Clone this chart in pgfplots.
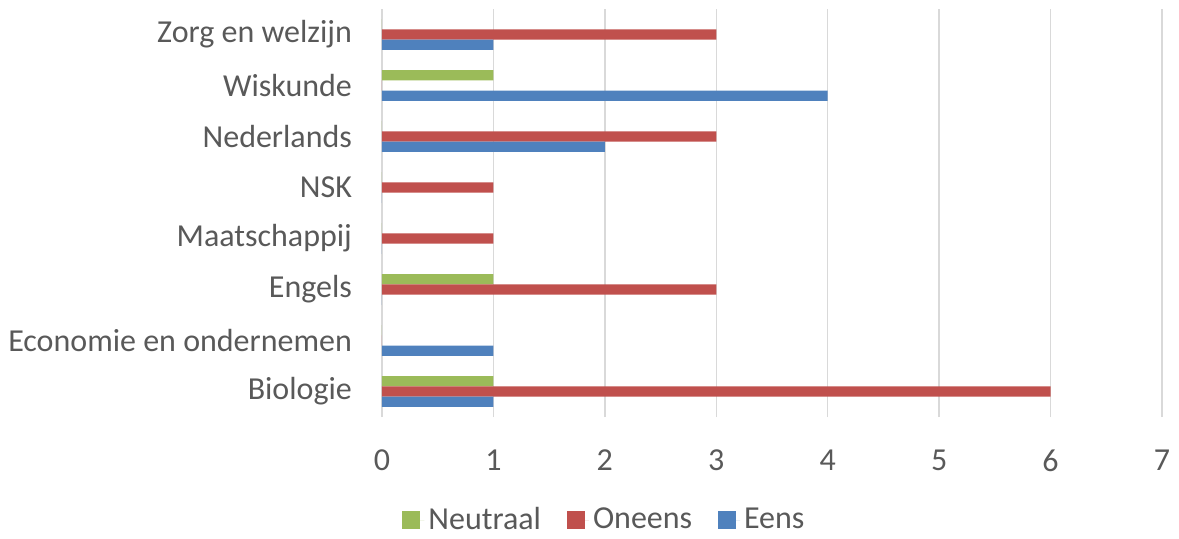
\documentclass[border=0pt]{standalone}
\usepackage{pgfplots}
\pgfplotsset{compat=1.18}
\usepackage{fontspec}
\setmainfont{Carlito}
\definecolor{eens}{HTML}{4F81BD}
\definecolor{oneens}{HTML}{C0504D}
\definecolor{neutraal}{HTML}{9BBB59}
\definecolor{txt}{HTML}{595959}
\definecolor{grid}{HTML}{D9D9D9}
\begin{document}
\begin{tikzpicture}[font=\fontsize{16pt}{19pt}\selectfont]
\useasboundingbox (-191pt,-60.5pt) rectangle (398.5pt,208.5pt);
\begin{axis}[
  at={(0,0)}, anchor=south west,
  xbar, scale only axis, width=390pt, height=204pt,
  xmin=0, xmax=7, ymin=-0.5, ymax=7.5,
  ytick={0,...,7},
  yticklabels={Biologie, Economie en ondernemen, Engels, Maatschappij, NSK, Nederlands, Wiskunde, Zorg en welzijn},
  xtick={0,...,7},
  /pgf/number format/assume math mode=true,
  xmajorgrids, major grid style={color=grid, line width=0.7pt},
  axis line style={draw=none},
  major tick length=0pt, tick style={draw=none},
  bar width=0.2,
  ticklabel style={text=txt},
  xticklabel style={yshift=-13pt},
  yticklabel style={xshift=-11.5pt},
  legend columns=3,
  legend style={at={(0.2865,-0.2525)}, anchor=center, draw=none, text=txt,
    /tikz/every even column/.append style={column sep=11pt}},
  legend image code/.code={\fill[#1,draw=none] (0pt,-4.5pt) rectangle (9pt,4.5pt); \path (0pt,0pt) -- (11pt,0pt);},
]
\addplot[fill=neutraal, draw=none, bar shift=0.2] coordinates {(1,0) (0,1) (1,2) (0,3) (0,4) (0,5) (1,6) (0,7)};
\addplot[fill=oneens, draw=none, bar shift=0] coordinates {(6,0) (0,1) (3,2) (1,3) (1,4) (3,5) (0,6) (3,7)};
\addplot[fill=eens, draw=none, bar shift=-0.2] coordinates {(1,0) (1,1) (0,2) (0,3) (0,4) (2,5) (4,6) (1,7)};
\legend{Neutraal, Oneens, Eens}
\end{axis}
\end{tikzpicture}
\end{document}
